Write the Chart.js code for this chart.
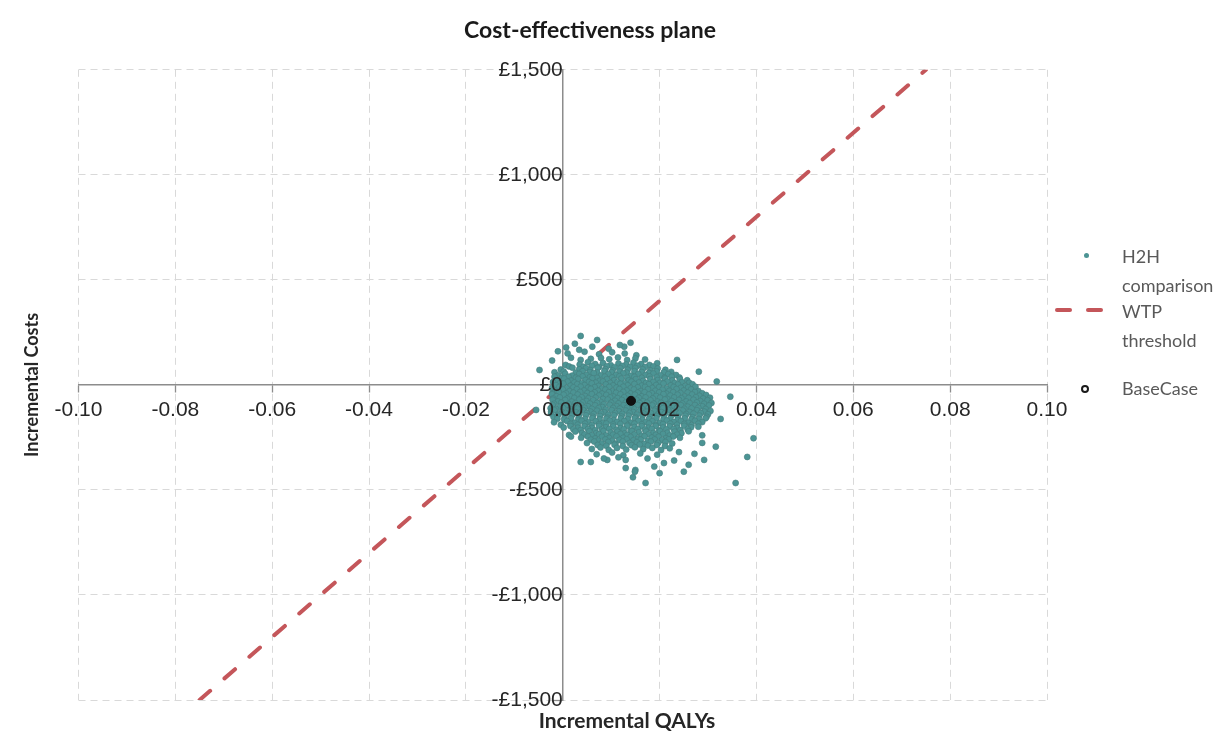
<!DOCTYPE html>
<html>
<head>
<meta charset="utf-8">
<script src="https://cdn.jsdelivr.net/npm/chart.js@4.4.1/dist/chart.umd.min.js"></script>
<style>
  html, body { margin: 0; padding: 0; background: #ffffff; }
  #wrap { position: relative; width: 1218px; height: 738px; overflow: hidden; }
  #c { display: block; }
  .axTitle { position: absolute; font-family: Lato, "Open Sans", sans-serif; font-weight: bold; font-size: 21px; color: #262626; white-space: nowrap; }
  .lg { position: absolute; font-family: Lato, "Open Sans", sans-serif; font-size: 18px; line-height: 29px; color: #595959; white-space: nowrap; }
  .sw { position: absolute; }
</style>
</head>
<body>
<div id="wrap">
  <canvas id="c" width="1218" height="738"></canvas>
  <div class="axTitle" id="xTitle" style="left:527px; width:200px; top:708px; line-height:24px; text-align:center;">Incremental QALYs</div>
  <div id="legend"></div>
</div>
<script>
// ---------------- data ----------------
const chartTitle = 'Cost-effectiveness plane';
const xAxisTitle = 'Incremental QALYs';
const yAxisTitle = 'Incremental Costs';
const xTickValues = [-0.10, -0.08, -0.06, -0.04, -0.02, 0.00, 0.02, 0.04, 0.06, 0.08, 0.10];
const yTickValues = [-1500, -1000, -500, 0, 500, 1000, 1500];
const seriesNames = ['H2H comparison', 'WTP threshold', 'BaseCase'];

// Base case (incremental QALYs, incremental costs)
const baseCase = [0.0141, -76];

// WTP threshold line end points (£20,000 per QALY)
const wtpQalys = [-0.075, 0.075];
const wtpCosts = [-1500, 1500];

// Probabilistic sensitivity analysis cloud: [incremental QALYs, incremental costs]
const h2hPoints = [
  [0.0037,233],[0.0071,214],[0.0140,201],[0.0025,196],[0.0007,178],[0.0034,167],[0.0061,182],[0.0095,172],[0.0127,182],[0.0118,190],
  [0.0010,150],[0.0045,158],[0.0075,146],[0.0102,155],[0.0128,149],[0.0152,141],[-0.0010,160],
  [-0.0022,116],[0.0017,129],[0.0037,119],[0.0058,124],[0.0079,128],[0.0096,122],[0.0114,131],[0.0133,118],[0.0150,126],[0.0170,121],[0.0236,119],
  [0.0006,95],[0.0035,97],[0.0052,108],[0.0067,99],[0.0083,104],[0.0099,94],[0.0115,102],[0.0131,97],[0.0146,106],[0.0162,99],[0.0179,95],[0.0195,103],
  [0.0013,88],[0.0043,86],[0.0060,91],[0.0075,85],[0.0091,89],[0.0107,84],[0.0123,90],[0.0139,86],[0.0154,91],[0.0170,85],[0.0187,88],
  [-0.0048,71],[-0.0004,73],[0.0020,82],[0.0034,74],[0.0048,79],[0.0057,70],[0.0072,81],[0.0088,75],[0.0103,68],[0.0119,79],[0.0134,72],[0.0150,80],[0.0165,74],[0.0181,69],[0.0196,78],[0.0212,72],[0.0281,63],
  [-0.0017,60],[0.0002,64],[0.0027,58],[0.0041,65],[0.0056,61],[0.0071,59],[0.0086,66],[0.0101,60],[0.0117,63],[0.0132,58],[0.0148,65],[0.0163,61],[0.0178,57],[0.0194,64],[0.0209,60],[0.0224,62],
  [-0.0014,40],[-0.0009,46],[0.0005,53],[0.0019,44],[0.0034,52],[0.0049,47],[0.0064,56],[0.0079,45],[0.0094,51],[0.0110,47],[0.0125,55],[0.0141,44],[0.0156,52],[0.0171,47],[0.0187,54],[0.0202,45],[0.0218,51],[0.0234,47],
  [-0.0017,39],[-0.0002,33],[0.0012,38],[0.0027,34],[0.0041,40],[0.0056,36],[0.0071,33],[0.0087,39],[0.0102,35],[0.0117,41],[0.0133,34],[0.0148,38],[0.0163,33],[0.0179,40],[0.0194,36],[0.0210,33],[0.0225,39],[0.0241,35],
  [-0.0012,22],[0.0003,30],[0.0017,20],[0.0032,28],[0.0047,23],[0.0061,31],[0.0076,19],[0.0091,27],[0.0106,22],[0.0121,30],[0.0136,21],[0.0151,27],[0.0166,19],[0.0181,28],[0.0196,23],[0.0211,30],[0.0226,21],[0.0242,27],[0.0257,22],
  [-0.0020,14],[-0.0005,9],[0.0010,15],[0.0024,11],[0.0039,8],[0.0054,14],[0.0068,10],[0.0083,16],[0.0098,9],[0.0113,13],[0.0128,8],[0.0142,15],[0.0157,11],[0.0172,9],[0.0187,14],[0.0201,10],[0.0216,16],[0.0231,9],[0.0246,13],[0.0261,10],
  [-0.0014,-2],[0.0001,6],[0.0016,-4],[0.0030,3],[0.0045,-1],[0.0060,7],[0.0074,-5],[0.0089,2],[0.0104,-3],[0.0119,5],[0.0134,-2],[0.0148,4],[0.0163,-4],[0.0178,3],[0.0193,-1],[0.0208,6],[0.0223,-3],[0.0238,2],[0.0253,-5],[0.0268,3],[0.0318,16],
  [-0.0022,-15],[-0.0007,-10],[0.0008,-16],[0.0022,-12],[0.0037,-9],[0.0052,-14],[0.0066,-11],[0.0081,-17],[0.0096,-10],[0.0111,-13],[0.0125,-9],[0.0140,-16],[0.0155,-12],[0.0170,-10],[0.0185,-15],[0.0199,-11],[0.0214,-17],[0.0229,-10],[0.0244,-14],[0.0259,-12],[0.0274,-9],
  [-0.0015,-29],[0.0000,-22],[0.0014,-30],[0.0029,-21],[0.0044,-27],[0.0058,-19],[0.0073,-28],[0.0088,-23],[0.0102,-31],[0.0117,-20],[0.0132,-27],[0.0147,-22],[0.0161,-30],[0.0176,-21],[0.0191,-28],[0.0206,-23],[0.0220,-29],[0.0235,-20],[0.0250,-27],[0.0265,-22],[0.0280,-29],
  [-0.0022,-40],[-0.0008,-35],[0.0007,-41],[0.0022,-37],[0.0036,-34],[0.0051,-39],[0.0066,-36],[0.0081,-42],[0.0095,-35],[0.0110,-38],[0.0125,-34],[0.0140,-41],[0.0155,-37],[0.0169,-35],[0.0184,-40],[0.0199,-36],[0.0214,-42],[0.0228,-35],[0.0243,-39],[0.0258,-37],[0.0273,-34],[0.0288,-40],
  [-0.0022,-45],[-0.0013,-54],[0.0002,-47],[0.0016,-55],[0.0031,-46],[0.0046,-53],[0.0060,-44],[0.0075,-51],[0.0090,-48],[0.0105,-56],[0.0119,-45],[0.0134,-52],[0.0149,-47],[0.0163,-55],[0.0178,-46],[0.0193,-53],[0.0208,-44],[0.0222,-51],[0.0237,-47],[0.0252,-55],[0.0267,-46],[0.0282,-52],[0.0296,-48],[0.0346,-56],
  [-0.0020,-65],[-0.0006,-60],[0.0009,-66],[0.0024,-62],[0.0039,-59],[0.0053,-64],[0.0068,-61],[0.0083,-67],[0.0098,-60],[0.0113,-63],[0.0127,-59],[0.0142,-66],[0.0157,-62],[0.0171,-60],[0.0186,-65],[0.0201,-61],[0.0216,-67],[0.0230,-60],[0.0245,-64],[0.0260,-62],[0.0275,-59],[0.0290,-65],[0.0304,-61],
  [-0.0021,-71],[-0.0010,-79],[0.0005,-72],[0.0019,-80],[0.0034,-70],[0.0049,-77],[0.0063,-73],[0.0078,-81],[0.0093,-70],[0.0108,-76],[0.0122,-72],[0.0137,-79],[0.0152,-71],[0.0166,-78],[0.0181,-73],[0.0196,-80],[0.0211,-70],[0.0225,-77],[0.0240,-72],[0.0255,-79],[0.0270,-71],[0.0284,-77],[0.0299,-73],
  [-0.0018,-90],[-0.0003,-85],[0.0012,-91],[0.0026,-87],[0.0041,-84],[0.0056,-89],[0.0071,-86],[0.0085,-92],[0.0100,-85],[0.0115,-88],[0.0130,-84],[0.0144,-91],[0.0159,-87],[0.0174,-85],[0.0188,-90],[0.0203,-86],[0.0218,-92],[0.0233,-85],[0.0247,-89],[0.0262,-87],[0.0277,-84],[0.0292,-90],[0.0307,-86],
  [-0.0021,-96],[-0.0006,-104],[0.0008,-97],[0.0023,-105],[0.0038,-95],[0.0052,-102],[0.0067,-98],[0.0082,-106],[0.0097,-95],[0.0111,-101],[0.0126,-97],[0.0141,-104],[0.0155,-96],[0.0170,-103],[0.0185,-98],[0.0200,-105],[0.0214,-95],[0.0229,-102],[0.0244,-97],[0.0258,-104],[0.0273,-96],[0.0288,-102],[0.0302,-98],
  [-0.0025,-111],[-0.0014,-115],[0.0001,-110],[0.0015,-116],[0.0030,-112],[0.0045,-109],[0.0060,-114],[0.0074,-111],[0.0089,-117],[0.0104,-110],[0.0118,-113],[0.0133,-109],[0.0148,-116],[0.0163,-112],[0.0177,-110],[0.0192,-115],[0.0207,-111],[0.0221,-117],[0.0236,-110],[0.0251,-114],[0.0266,-112],[0.0280,-109],[0.0295,-115],
  [-0.0055,-119],[-0.0024,-128],[-0.0017,-121],[-0.0002,-129],[0.0013,-122],[0.0027,-130],[0.0042,-120],[0.0057,-127],[0.0071,-123],[0.0086,-131],[0.0101,-120],[0.0116,-126],[0.0130,-122],[0.0145,-129],[0.0160,-121],[0.0174,-128],[0.0189,-123],[0.0204,-130],[0.0218,-120],[0.0233,-127],[0.0248,-122],[0.0262,-129],[0.0277,-121],[0.0292,-127],[0.0305,-124],
  [-0.0024,-136],[-0.0009,-140],[0.0006,-135],[0.0020,-141],[0.0035,-137],[0.0050,-134],[0.0064,-139],[0.0079,-136],[0.0094,-142],[0.0108,-135],[0.0123,-138],[0.0138,-134],[0.0153,-141],[0.0167,-137],[0.0182,-135],[0.0197,-140],[0.0211,-136],[0.0226,-142],[0.0241,-135],[0.0255,-139],[0.0270,-137],[0.0285,-134],[0.0300,-140],
  [-0.0019,-153],[-0.0011,-146],[0.0004,-154],[0.0018,-147],[0.0033,-155],[0.0048,-145],[0.0062,-152],[0.0077,-148],[0.0092,-156],[0.0106,-145],[0.0121,-151],[0.0136,-147],[0.0150,-154],[0.0165,-146],[0.0180,-153],[0.0194,-148],[0.0209,-155],[0.0224,-145],[0.0238,-152],[0.0253,-147],[0.0268,-154],[0.0282,-146],[0.0297,-152],[0.0326,-162],
  [-0.0011,-161],[0.0003,-165],[0.0017,-160],[0.0032,-166],[0.0046,-162],[0.0061,-159],[0.0076,-164],[0.0090,-161],[0.0105,-167],[0.0120,-160],[0.0134,-163],[0.0149,-159],[0.0164,-166],[0.0178,-162],[0.0193,-160],[0.0208,-165],[0.0222,-161],[0.0237,-167],[0.0252,-160],[0.0266,-164],[0.0281,-162],[0.0295,-159],
  [-0.0018,-178],[-0.0004,-190],[0.0009,-172],[0.0024,-180],[0.0039,-171],[0.0053,-178],[0.0068,-173],[0.0083,-181],[0.0097,-170],[0.0112,-177],[0.0127,-172],[0.0141,-180],[0.0156,-171],[0.0171,-178],[0.0185,-173],[0.0200,-181],[0.0215,-170],[0.0229,-177],[0.0244,-172],[0.0259,-180],[0.0273,-171],[0.0288,-177],
  [0.0016,-186],[0.0031,-190],[0.0046,-185],[0.0060,-191],[0.0075,-187],[0.0090,-184],[0.0104,-189],[0.0119,-186],[0.0134,-192],[0.0148,-185],[0.0163,-188],[0.0178,-184],[0.0192,-191],[0.0207,-187],[0.0222,-185],[0.0236,-190],[0.0251,-186],[0.0266,-192],[0.0280,-185],
  [0.0002,-203],[0.0016,-196],[0.0031,-204],[0.0045,-197],[0.0060,-205],[0.0075,-195],[0.0089,-202],[0.0104,-198],[0.0119,-206],[0.0133,-195],[0.0148,-201],[0.0163,-197],[0.0177,-204],[0.0192,-196],[0.0207,-203],[0.0221,-198],[0.0236,-205],[0.0251,-195],[0.0265,-202],[0.0280,-199],
  [0.0022,-211],[0.0037,-215],[0.0052,-210],[0.0067,-216],[0.0081,-212],[0.0096,-209],[0.0111,-214],[0.0126,-211],[0.0140,-217],[0.0155,-210],[0.0170,-213],[0.0184,-209],[0.0199,-216],[0.0214,-212],[0.0229,-210],[0.0243,-215],[0.0258,-211],
  [0.0013,-238],[0.0026,-222],[0.0040,-229],[0.0055,-221],[0.0069,-230],[0.0084,-220],[0.0099,-227],[0.0113,-223],[0.0128,-231],[0.0143,-220],[0.0157,-226],[0.0172,-222],[0.0187,-229],[0.0201,-221],[0.0216,-228],[0.0231,-223],[0.0245,-230],[0.0260,-221],[0.0288,-240],
  [0.0045,-236],[0.0060,-240],[0.0075,-235],[0.0089,-241],[0.0104,-237],[0.0119,-234],[0.0133,-239],[0.0148,-236],[0.0163,-242],[0.0177,-235],[0.0192,-238],[0.0207,-234],[0.0221,-241],[0.0236,-237],
  [0.0038,-252],[0.0052,-246],[0.0067,-255],[0.0081,-247],[0.0096,-253],[0.0111,-245],[0.0125,-252],[0.0140,-248],[0.0155,-256],[0.0169,-245],[0.0184,-251],[0.0198,-247],[0.0213,-254],[0.0228,-246],[0.0242,-252],[0.0394,-254],[0.0017,-246],
  [0.0058,-261],[0.0073,-265],[0.0088,-260],[0.0102,-266],[0.0117,-262],[0.0132,-259],[0.0146,-264],[0.0161,-261],[0.0176,-267],[0.0190,-260],[0.0205,-263],[0.0219,-259],
  [0.0050,-277],[0.0065,-270],[0.0080,-279],[0.0094,-272],[0.0109,-280],[0.0124,-270],[0.0138,-277],[0.0153,-273],[0.0168,-281],[0.0182,-270],[0.0197,-276],[0.0212,-272],[0.0226,-279],[0.0316,-294],[0.0288,-276],
  [0.0072,-286],[0.0090,-290],[0.0107,-285],[0.0124,-291],[0.0142,-287],[0.0159,-284],[0.0176,-289],[0.0194,-286],[0.0211,-291],
  [0.0060,-305],[0.0078,-298],[0.0095,-310],[0.0112,-300],[0.0131,-308],[0.0149,-297],[0.0166,-306],[0.0185,-300],[0.0203,-310],[0.0221,-302],
  [0.0070,-330],[0.0102,-322],[0.0125,-335],[0.0160,-326],[0.0195,-332],[0.0240,-320],[0.0272,-328],
  [0.0037,-367],[0.0058,-367],[0.0092,-357],[0.0130,-357],[0.0130,-396],[0.0150,-405],[0.0149,-413],[0.0189,-389],[0.0209,-372],[0.0292,-357],
  [0.0381,-343],[0.0357,-467],[0.0171,-467],[0.0250,-413],[0.0115,-345],[0.0175,-350],[0.0230,-360],[0.0145,-440],[0.0085,-350],[0.0200,-420],[0.0260,-380]
];

// ---------------- formatting ----------------
const fmtCost = v => (v < 0 ? '-' : '') + '£' + Math.abs(v).toLocaleString('en-GB');
const fmtQaly = v => Number(v).toFixed(2);

const gridColor = ctx => (ctx.tick && Math.abs(ctx.tick.value) < 1e-9) ? 'rgba(0,0,0,0)' : '#d9d9d9';
const axisGrey = '#8c8c8c';
const tickFont = { family: '"Liberation Sans", Arial, sans-serif', size: 21 };
const tickColor = '#262626';

const teal = 'rgb(76,148,148)';
const tealBorder = 'rgb(68,126,126)';
const wtpRed = 'rgb(196,86,90)';

const chart = new Chart(document.getElementById('c'), {
  type: 'scatter',
  data: {
    datasets: [
      {
        label: seriesNames[2],
        data: [{ x: baseCase[0], y: baseCase[1] }],
        pointRadius: 4.5,
        backgroundColor: '#111111',
        borderColor: '#111111',
        borderWidth: 1
      },
      {
        label: seriesNames[0],
        data: h2hPoints.map(p => ({ x: p[0], y: p[1] })),
        pointRadius: 3,
        backgroundColor: teal,
        borderColor: tealBorder,
        borderWidth: 0.6
      },
      {
        label: seriesNames[1],
        data: wtpQalys.map((q, i) => ({ x: q, y: wtpCosts[i] })),
        showLine: true,
        pointRadius: 0,
        borderColor: wtpRed,
        borderWidth: 4,
        borderDash: [14, 19],
        borderCapStyle: 'round',
        fill: false
      }
    ]
  },
  options: {
    responsive: false,
    animation: false,
    devicePixelRatio: 1,
    layout: { padding: { left: 0, right: 38, top: 0, bottom: 38 } },
    plugins: {
      legend: { display: false },
      tooltip: { enabled: false },
      title: {
        display: true,
        text: chartTitle,
        color: '#1a1a1a',
        font: { family: 'Lato, "Open Sans", sans-serif', size: 23, weight: 'bold' },
        padding: { top: 17, bottom: 25.2 }
      }
    },
    scales: {
      x: {
        type: 'linear',
        position: { y: 0 },
        min: -0.1, max: 0.1,
        afterBuildTicks: s => { s.ticks = xTickValues.map(v => ({ value: v })); },
        ticks: { display: true, z: 1, autoSkip: false, maxRotation: 0, padding: 6, font: tickFont, color: tickColor, callback: v => fmtQaly(v) },
        grid: { z: -1, color: gridColor, lineWidth: 1, tickColor: axisGrey, tickLength: 7, tickWidth: 1.3, tickBorderDash: [] },
        border: { z: 0, display: true, color: axisGrey, width: 1.5, dash: [7, 5] }
      },
      y: {
        type: 'linear',
        position: { x: 0 },
        min: -1500, max: 1500,
        afterBuildTicks: s => { s.ticks = yTickValues.map(v => ({ value: v })); },
        ticks: { display: true, z: 1, autoSkip: false, padding: 8, font: tickFont, color: tickColor, callback: v => fmtCost(v) },
        grid: { z: -1, color: gridColor, lineWidth: 1, tickColor: axisGrey, tickLength: 10, tickWidth: 1.3, tickBorderDash: [] },
        border: { z: 0, display: true, color: axisGrey, width: 1.5, dash: [7, 5] }
      },
      yTitle: {
        type: 'linear',
        position: 'left',
        min: 0, max: 1,
        ticks: { display: false },
        grid: { display: false },
        border: { display: false },
        title: {
          display: true,
          text: yAxisTitle,
          color: '#262626',
          font: { family: 'Lato, "Open Sans", sans-serif', size: 18, weight: 'bold' },
          padding: { top: 21, bottom: 0 }
        },
        afterFit: s => { s.width = 78.5; }
      },
      yRight: {
        type: 'linear',
        position: 'right',
        min: 0, max: 1,
        ticks: { display: false },
        grid: { display: false },
        border: { display: false },
        afterFit: s => { s.width = 133; }
      }
    }
  }
});

// ---------------- legend (HTML, real text) ----------------
const lg = document.getElementById('legend');
lg.innerHTML =
  '<div class="sw" style="left:1083.5px;top:252.5px;width:5px;height:5px;border-radius:50%;background:' + teal + ';"></div>' +
  '<div class="lg" style="left:1122px;top:242px;">H2H<br>comparison</div>' +
  '<div class="sw" style="left:1055px;top:308px;width:17px;height:4px;border-radius:2px;background:' + wtpRed + ';"></div>' +
  '<div class="sw" style="left:1086px;top:308px;width:17px;height:4px;border-radius:2px;background:' + wtpRed + ';"></div>' +
  '<div class="lg" style="left:1122px;top:297px;">WTP<br>threshold</div>' +
  '<div class="sw" style="left:1081px;top:385px;width:4px;height:4px;border-radius:50%;border:2px solid #1a1a1a;background:#fff;"></div>' +
  '<div class="lg" style="left:1122px;top:374px;">BaseCase</div>';
</script>
</body>
</html>
